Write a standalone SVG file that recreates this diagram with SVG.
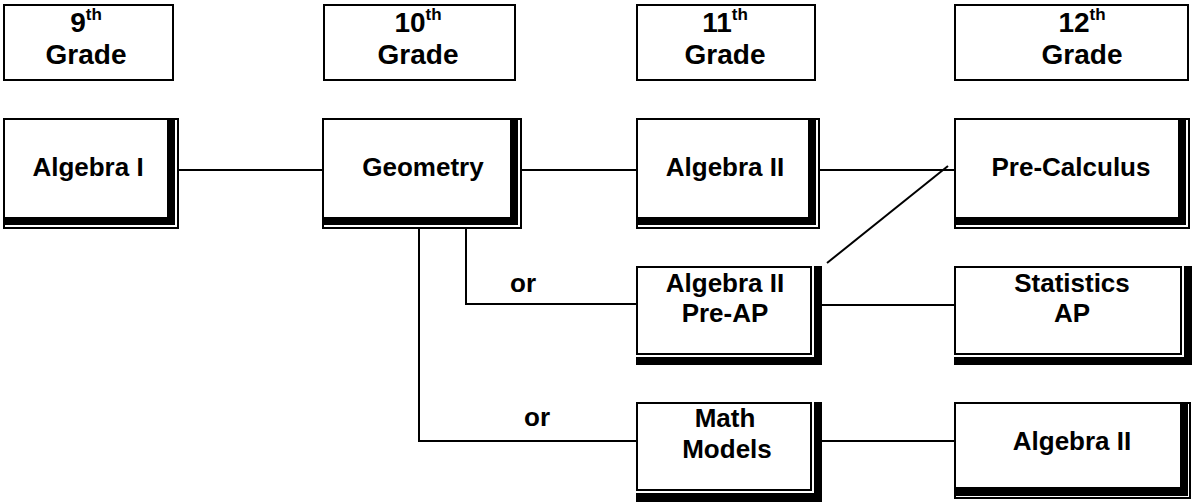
<svg xmlns="http://www.w3.org/2000/svg" width="1192" height="502" viewBox="0 0 1192 502">
<style>
.b{fill:#fff;stroke:#000;stroke-width:2}
.k{fill:#000}
.t{font-family:"Liberation Sans",Arial,sans-serif;font-weight:bold;font-size:26px;text-anchor:middle;fill:#000}
.h{font-size:28px}
.s{font-size:17px}
.c{stroke:#000;stroke-width:2;fill:none}
</style>
<rect width="1192" height="502" fill="#fff"/>
<g id="connectors">
<line class="c" x1="179" y1="170" x2="322" y2="170"/>
<line class="c" x1="522" y1="170" x2="636" y2="170"/>
<line class="c" x1="820" y1="170" x2="954" y2="170"/>
<line class="c" x1="827" y1="263" x2="948" y2="166"/>
<polyline class="c" points="466,229 466,304 636,304"/>
<polyline class="c" points="419,229 419,441 636,441"/>
<line class="c" x1="822" y1="305" x2="954" y2="305"/>
<line class="c" x1="822" y1="441" x2="954" y2="441"/>
<text class="t" x="523" y="292">or</text>
<text class="t" x="537" y="426">or</text>
</g>
<g id="h9">
<rect class="b" x="4" y="5" width="169" height="75"/>
<text class="t h" x="86" y="32">9<tspan class="s" dy="-12">th</tspan></text>
<text class="t h" x="86" y="64">Grade</text>
</g>
<g id="h10">
<rect class="b" x="324" y="5" width="191" height="75"/>
<text class="t h" x="418" y="32">10<tspan class="s" dy="-12">th</tspan></text>
<text class="t h" x="418" y="64">Grade</text>
</g>
<g id="h11">
<rect class="b" x="637" y="5" width="178" height="75"/>
<text class="t h" x="725" y="32">11<tspan class="s" dy="-12">th</tspan></text>
<text class="t h" x="725" y="64">Grade</text>
</g>
<g id="h12">
<rect class="b" x="955" y="5" width="233" height="75"/>
<text class="t h" x="1082" y="32">12<tspan class="s" dy="-12">th</tspan></text>
<text class="t h" x="1082" y="64">Grade</text>
</g>
<g id="algebra1">
<rect class="b" x="4" y="119" width="174" height="109"/>
<rect class="k" x="167" y="119" width="8" height="106"/>
<rect class="k" x="4" y="217" width="171" height="8"/>
<text class="t" x="88" y="176">Algebra I</text>
</g>
<g id="geometry">
<rect class="b" x="323" y="119" width="198" height="109"/>
<rect class="k" x="510" y="119" width="8" height="106"/>
<rect class="k" x="323" y="217" width="195" height="8"/>
<text class="t" x="423" y="176">Geometry</text>
</g>
<g id="algebra2">
<rect class="b" x="637" y="119" width="182" height="109"/>
<rect class="k" x="808" y="119" width="8" height="106"/>
<rect class="k" x="637" y="217" width="179" height="8"/>
<text class="t" x="725" y="176">Algebra II</text>
</g>
<g id="precalc">
<rect class="b" x="955" y="119" width="234" height="109"/>
<rect class="k" x="1178" y="119" width="8" height="106"/>
<rect class="k" x="955" y="217" width="231" height="8"/>
<text class="t" x="1071" y="176">Pre-Calculus</text>
</g>
<g id="algebra2preap">
<rect class="b" x="637" y="267" width="174" height="87"/>
<rect class="k" x="814" y="266" width="8" height="99"/>
<rect class="k" x="636" y="357" width="186" height="8"/>
<text class="t" x="725" y="292">Algebra II</text>
<text class="t" x="725" y="322">Pre-AP</text>
</g>
<g id="statistics">
<rect class="b" x="955" y="267" width="226" height="87"/>
<rect class="k" x="1184" y="266" width="8" height="99"/>
<rect class="k" x="954" y="357" width="238" height="8"/>
<text class="t" x="1072" y="292">Statistics</text>
<text class="t" x="1072" y="322">AP</text>
</g>
<g id="mathmodels">
<rect class="b" x="637" y="403" width="174" height="87"/>
<rect class="k" x="814" y="402" width="8" height="100"/>
<rect class="k" x="636" y="493" width="186" height="9"/>
<text class="t" x="725" y="427">Math</text>
<text class="t" x="727" y="458">Models</text>
</g>
<g id="algebra2b">
<rect class="b" x="955" y="403" width="235" height="95"/>
<rect class="k" x="1180" y="403" width="8" height="85"/>
<rect class="k" x="955" y="487" width="233" height="9"/>
<text class="t" x="1072" y="450">Algebra II</text>
</g>
</svg>
